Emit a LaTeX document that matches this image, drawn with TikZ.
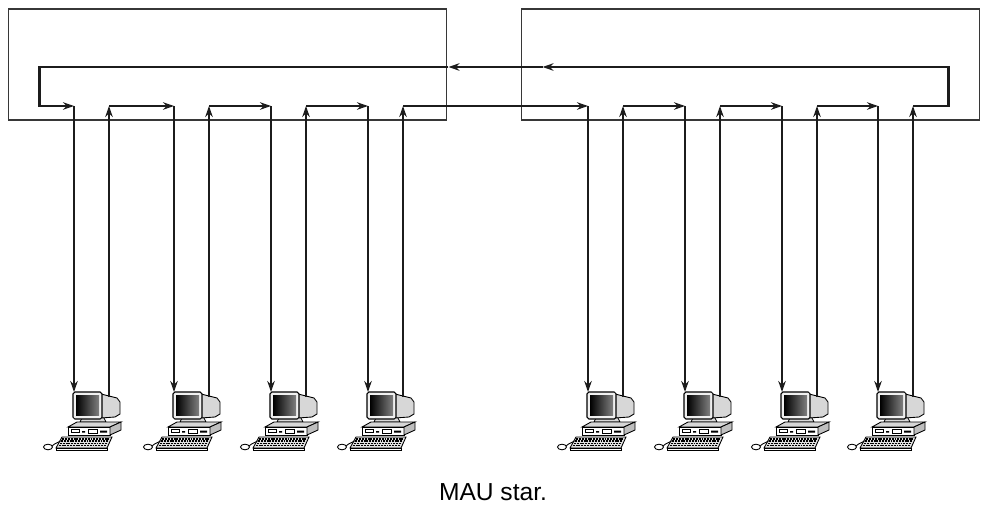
\documentclass[tikz,border=0pt]{standalone}
\usepackage{fontspec}
\setmainfont{Liberation Sans}
\usetikzlibrary{arrows.meta,positioning,calc}
\definecolor{RingInk}{RGB}{28,28,28}
\definecolor{BoxInk}{RGB}{55,55,55}
\definecolor{CaseGrey}{RGB}{215,215,215}

\tikzset{
  mau/.style={draw=BoxInk,line width=0.6pt,minimum height=2.22cm,inner sep=0pt},
  ring/.style={draw=RingInk,line width=1.2pt},
  sig/.style={ring,-{Stealth[length=2.2mm,width=1.5mm]}},
  computer/.pic={
    % tube behind the bezel
    \draw[line width=0.5pt,fill=CaseGrey] (27,2) -- (43,6) -- (46,10) -- (46,22) -- (41,25) -- (27,26) -- cycle;
    \draw[line width=0.4pt,fill=gray!30] (8,26) -- (30,26) -- (32,30) -- (6,30) -- cycle;
    % bezel and screen
    \draw[line width=0.6pt,fill=gray!12,rounded corners=1pt] (-1,0) rectangle (28,27);
    \shade[left color=black,right color=black!50] (2,3) rectangle (25,23);
    % desktop case
    \draw[line width=0.5pt,fill=CaseGrey] (-6,35) -- (36,35) -- (47,30) -- (3,30) -- cycle;
    \draw[line width=0.5pt,fill=white] (-6,35) rectangle (36,43);
    \draw[line width=0.5pt,fill=gray!50] (36,35) -- (47,30) -- (47,38) -- (36,43) -- cycle;
    \draw[line width=0.4pt] (-3,37) rectangle (5,40.5) (14,37) rectangle (23,41);
    \fill (8,39) rectangle (11,40.5) (26,38.5) rectangle (33,40.5);
    % keyboard
    \draw[line width=0.5pt,fill=gray!25] (-12,45) -- (38,45) -- (33,56) -- (-18,56) -- cycle;
    \draw[line width=0.5pt,fill=white] (-18,56) -- (33,56) -- (33,58.5) -- (-18,58.5) -- cycle;
    \foreach \r in {47,49.2,51.4,53.6}
      \draw[line width=1pt,dash pattern=on 1.1pt off 0.5pt]
        ({-12-(\r-45)*6/11+1.5},\r) -- ({38-(\r-45)*5/11-1.5},\r);
    % mouse and cord
    \draw[line width=0.5pt,fill=white] (-26,55) ellipse [x radius=4.5,y radius=2.8];
    \draw[line width=0.5pt] (-22,54) .. controls (-19,51) and (-16,51) .. (-13.5,49);
    \coordinate (-in) at (0,0);
    \coordinate (-out) at (35,5);
  }
}

\begin{document}
\begin{tikzpicture}[x=0.02cm,y=-0.02cm]
\useasboundingbox (0,0) rectangle (987,507);
\node[mau,minimum width=8.78cm] (mauL) at (227.5,64.5) {};
\node[mau,minimum width=9.18cm] (mauR) at (750.5,64.5) {};
\coordinate (high) at (0,67);
\coordinate (low) at (0,106);

\foreach \n/\x in {1/74,2/174,3/271,4/368,5/588,6/685,7/782,8/878}
  \pic (pc\n) at (\x,392) {computer};

% lobe of every station
\foreach \n in {1,...,8} {
  \draw[sig] (pc\n-in |- low) -- (pc\n-in);
  \draw[sig] (pc\n-out) -- (pc\n-out |- low);
}
\foreach \a/\b in {1/2,2/3,3/4,4/5,5/6,6/7,7/8}
  \draw[sig] (pc\a-out |- low) -- (pc\b-in |- low);

% return path back to the first station
\draw[sig] (pc8-out |- low) -| ($(mauR.east |- high)+(-32,0)$) -- ($(mauR.west |- high)+(22,0)$);
\draw[sig] ($(mauR.west |- high)+(22,0)$) -- ($(mauL.east |- high)+(1,0)$);
\draw[sig] ($(mauL.east |- high)+(1,0)$) -| ($(mauL.west |- low)+(32,0)$) -- (pc1-in |- low);

\node[font=\fontsize{14}{16}\selectfont,anchor=base] (cap) at (493,500) {MAU star.};
\end{tikzpicture}
\end{document}
